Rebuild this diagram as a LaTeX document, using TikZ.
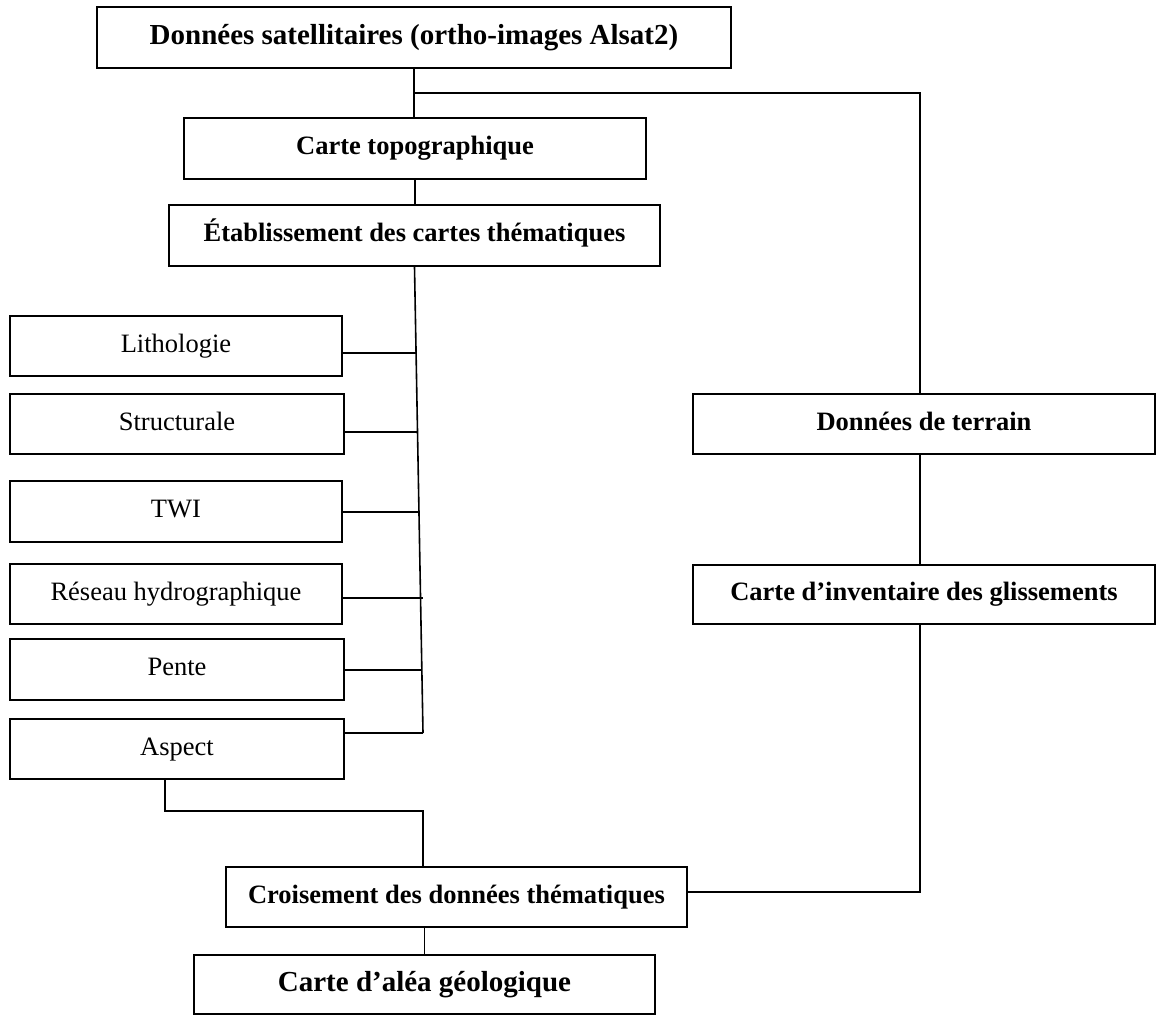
\documentclass[tikz,border=0pt]{standalone}
\usepackage{fontspec}
\setmainfont{Liberation Serif}
\usetikzlibrary{calc}
\begin{document}
\begin{tikzpicture}[x=1pt,y=-1pt,
  box/.style={draw, line width=2pt, rectangle, inner sep=0pt},
  big/.style={font=\fontsize{29}{34}\selectfont\bfseries, text height=19.5pt, text depth=6pt},
  mid/.style={font=\fontsize{26.5}{31}\selectfont\bfseries, text height=18pt, text depth=5.5pt},
  reg/.style={font=\fontsize{26.5}{31}\selectfont, text height=18pt, text depth=5.5pt},
  link/.style={line width=1.6pt}]
\useasboundingbox (0,0) rectangle (1162,1015);
% main column
\node[box,big,minimum width=634pt,minimum height=61pt] (sat) at (414,37.5) {Données satellitaires (ortho-images Alsat2)};
\node[box,mid,minimum width=462pt,minimum height=61pt] (topo) at (415,148.5) {Carte topographique};
\node[box,mid,minimum width=491pt,minimum height=61pt] (etab) at (414.5,235.5) {Établissement des cartes thématiques};
% thematic maps
\node[box,reg,minimum width=332pt,minimum height=60pt] (litho) at (176,346) {Lithologie};
\node[box,reg,minimum width=334pt,minimum height=60pt] (struct) at (177,424) {Structurale};
\node[box,reg,minimum width=332pt,minimum height=61pt] (twi) at (176,511.5) {TWI};
\node[box,reg,minimum width=332pt,minimum height=60pt] (reseau) at (176,594) {Réseau hydrographique};
\node[box,reg,minimum width=334pt,minimum height=61pt] (pente) at (177,669.5) {Pente};
\node[box,reg,minimum width=334pt,minimum height=60pt] (aspect) at (177,749) {Aspect};
% right column
\node[box,mid,minimum width=462pt,minimum height=60pt] (terrain) at (924,424) {Données de terrain};
\node[box,mid,minimum width=462pt,minimum height=59pt] (inv) at (924,594.5) {Carte d’inventaire des glissements};
% bottom
\node[box,mid,minimum width=461pt,minimum height=60pt] (crois) at (456.5,897) {Croisement des données thématiques};
\node[box,big,minimum width=461pt,minimum height=59pt] (alea) at (424.5,984.5) {Carte d’aléa géologique};
% helper coordinates
\coordinate (j1) at (414,93);
\coordinate (rc) at (920,93);
\coordinate (spEnd) at (423,733);
\coordinate (t1) at (416.5,353);
\coordinate (t2) at (417.8,432);
\coordinate (t3) at (419.2,512);
\coordinate (t4) at (423,598);
\coordinate (t5) at (421.9,670);
\coordinate (aB) at (165,811);
\coordinate (cE) at (687,892);
% connectors
\draw[link] (sat.south) -- (sat.south |- topo.north);
\draw[link] (j1) -- (rc) -- (rc |- terrain.north);
\draw[link] (topo.south) -- (topo.south |- etab.north);
\draw[link] (etab.south) -- (spEnd);
\draw[link] (t1 -| litho.east) -- (t1);
\draw[link] (t2 -| struct.east) -- (t2);
\draw[link] (t3 -| twi.east) -- (t3);
\draw[link] (t4 -| reseau.east) -- (t4);
\draw[link] (t5 -| pente.east) -- (t5);
\draw[link] (spEnd -| aspect.east) -- (spEnd);
\draw[link] (aB |- aspect.south) -- (aB) -| (spEnd |- crois.north);
\draw[link] (rc |- terrain.south) -- (rc |- inv.north);
\draw[link] (rc |- inv.south) -- (rc |- cE) -- (cE);
\draw[link] (alea.north |- crois.south) -- (alea.north);
\end{tikzpicture}
\end{document}
